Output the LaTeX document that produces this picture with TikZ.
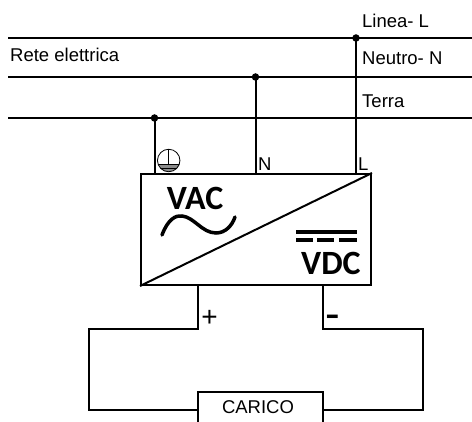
\documentclass[tikz,border=0pt]{standalone}
\usepackage{fontspec}
\setmainfont{Liberation Sans}
\newfontfamily\markfont{Carlito}
\usepackage{tikz}
\usetikzlibrary{positioning}

\begin{document}
\begin{tikzpicture}[x=1pt,y=-1pt]

    % Custom styles
    \tikzstyle{plain} = [draw=none, fill=none, inner sep=0pt, font=\fontsize{18.5}{22}\selectfont]
    \tikzstyle{wire} = [draw=black, line width=2pt]
    \tikzstyle{dot} = [circle, fill=black, inner sep=0pt, minimum size=7.5pt]
    \tikzstyle{big} = [draw=none, inner sep=0pt, font=\fontsize{34}{34}\markfont\bfseries\selectfont]

    \useasboundingbox (0,0) rectangle (472,422);
    \clip (0,0) rectangle (472,422);

    % Mains lines
    \coordinate (l0) at (8,38);
    \coordinate (l1) at (472,38);
    \coordinate (n0) at (8,77);
    \coordinate (n1) at (472,77);
    \coordinate (t0) at (8,118);
    \coordinate (t1) at (472,118);
    \draw[wire] (l0) -- (l1);
    \draw[wire] (n0) -- (n1);
    \draw[wire] (t0) -- (t1);

    \node[dot] (ldot) at (356,38) {};
    \node[dot] (ndot) at (255.5,77) {};
    \node[dot] (tdot) at (154.5,118) {};

    % Converter
    \node[draw=black, line width=2pt, minimum width=230pt, minimum height=111pt, inner sep=0pt] (conv) at (256,229.5) {};
    \draw[wire] (conv.south west) -- (conv.north east);
    \draw[wire] (ldot.center) -- (ldot |- conv.north);
    \draw[wire] (ndot.center) -- (ndot |- conv.north);
    \draw[wire] (tdot.center) -- (tdot |- conv.north);

    % Labels
    \node[plain, anchor=base west] (linea) at (362,28) {Linea- L};
    \node[plain, anchor=base west] (neutro) at (362,65) {Neutro- N};
    \node[plain, anchor=base west] (terra) at (362,108) {Terra};
    \node[plain, anchor=base west] (rete) at (10,62) {Rete elettrica};
    \node[plain, anchor=base west] (nlab) at (258,171) {N};
    \node[plain, anchor=base west] (llab) at (358,171) {L};

    % Earth symbol
    \node[circle, minimum size=22.5pt, inner sep=0pt] (earth) at (168.7,160.5) {};
    \begin{scope}
        \clip (168.7,160.5) circle (11.25);
        \fill[black!45] (150,164) rectangle (190,175);
        \draw[line width=0.7pt] (150,164) -- (190,164);
        \draw[line width=0.7pt] (150,168) -- (190,168);
    \end{scope}
    \draw[line width=0.8pt] (168.7,160.5) circle (11.25);
    \draw[line width=0.7pt] (earth.north) -- (168.7,164);

    % AC and DC marks
    \node[big, anchor=base] (vac) at (195,210) {VAC};
    \draw[line width=3.5pt, line cap=round] (162,235) .. controls (168,219) and (176,215) .. (182,216) .. controls (194,217) and (202,233) .. (216,233) .. controls (225,233) and (232,226) .. (235,217);
    \node[big, anchor=base] (vdc) at (331,275) {VDC};
    \draw[line width=3.5pt] (296,232) -- (357,232);
    \draw[line width=3.5pt] (296,240) -- (313,240);
    \draw[line width=3.5pt] (317,240) -- (334,240);
    \draw[line width=3.5pt] (339,240) -- (357,240);

    % Load
    \node[draw=black, line width=2pt, fill=white, minimum width=125.5pt, minimum height=50pt, inner sep=0pt] (load) at (260.5,417) {};
    \node[plain, anchor=base] (carico) at (258,414) {CARICO};
    \coordinate (pa) at (198,285);
    \coordinate (pb) at (198,329.5);
    \coordinate (pc) at (89,329.5);
    \coordinate (pd) at (89,410);
    \coordinate (ma) at (323,285);
    \coordinate (mb) at (323,329.5);
    \coordinate (mc) at (423,329.5);
    \coordinate (md) at (423,410);
    \draw[wire] (pa) -- (pb) -- (pc) -- (pd) -- (load.west |- pd);
    \draw[wire] (ma) -- (mb) -- (mc) -- (md) -- (load.east |- md);
    \node[plain, anchor=base, font=\fontsize{28}{28}\selectfont] (plus) at (209.5,327) {+};
    \node[plain, anchor=base, font=\fontsize{44}{44}\selectfont] (minus) at (332.5,329) {-};

\end{tikzpicture}
\end{document}
